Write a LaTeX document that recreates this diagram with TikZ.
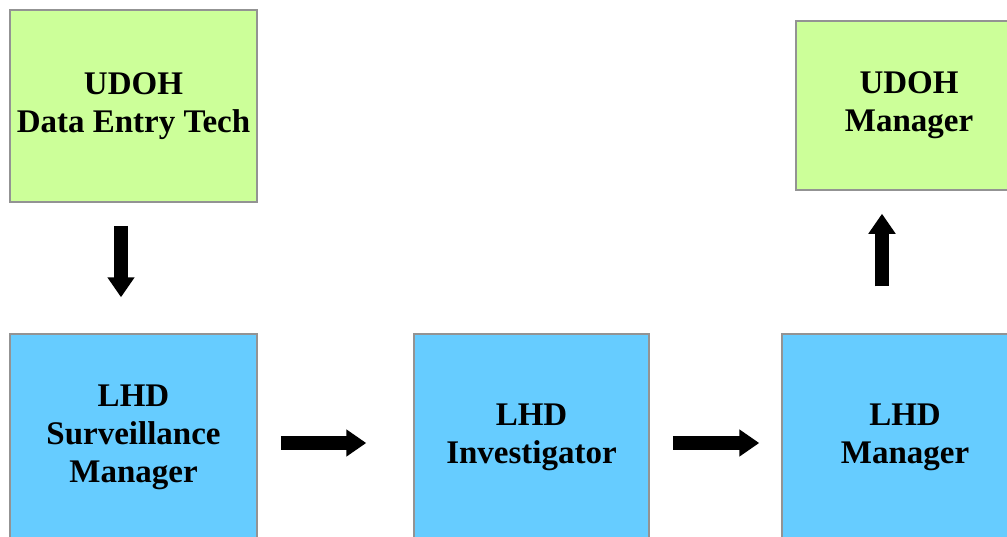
\documentclass[tikz,border=0pt]{standalone}
\usepackage{fontspec}
\setmainfont{Liberation Serif}
\usetikzlibrary{arrows.meta}
\definecolor{udohgreen}{HTML}{CCFF99}
\definecolor{lhdblue}{HTML}{66CCFF}
\tikzset{
  box/.style={draw=gray!85, line width=0.75pt, align=center, inner sep=0pt,
    font=\bfseries\fontsize{16.5}{19}\selectfont},
  udoh/.style={box, fill=udohgreen},
  lhd/.style={box, fill=lhdblue, minimum height=103pt},
  blk/.style={line width=7pt, -{Triangle[length=10pt,width=13pt]}}
}
\begin{document}
\begin{tikzpicture}[x=0.5pt, y=-0.5pt]

  \useasboundingbox (0,0) rectangle (1007,536);

  \node[udoh, minimum width=123.5pt, minimum height=96pt] (tech) at (133.5,106) {UDOH\\Data Entry Tech};
  \node[udoh, minimum width=113pt, minimum height=84.5pt] (umgr) at (909,105.5) {UDOH\\Manager};

  \node[lhd, minimum width=123.5pt] (surv) at (133.5,437) {LHD\\Surveillance\\Manager};
  \node[lhd, minimum width=117.5pt] (inv) at (531.5,437) {LHD\\Investigator};
  \node[lhd, minimum width=123pt] (lmgr) at (905,437) {LHD\\Manager};

  \draw[blk, shorten <=11.5pt, shorten >=18pt]
    ([xshift=-6.25pt]tech.south) -- ([xshift=-6.25pt]surv.north); % tech->surv
  \draw[blk, shorten <=11.5pt, shorten >=23.5pt]
    ([yshift=-3pt]surv.east) -- ([yshift=-3pt]inv.west); % surv->inv
  \draw[blk, shorten <=11.5pt, shorten >=11pt]
    ([yshift=-3pt]inv.east) -- ([yshift=-3pt]lmgr.west); % inv->lmgr
  \draw[blk, shorten <=23.5pt, shorten >=11.5pt]
    ([xshift=-11.5pt]lmgr.north) -- ([xshift=-11.5pt]umgr.south -| lmgr.north); % lmgr->umgr

\end{tikzpicture}
\end{document}
